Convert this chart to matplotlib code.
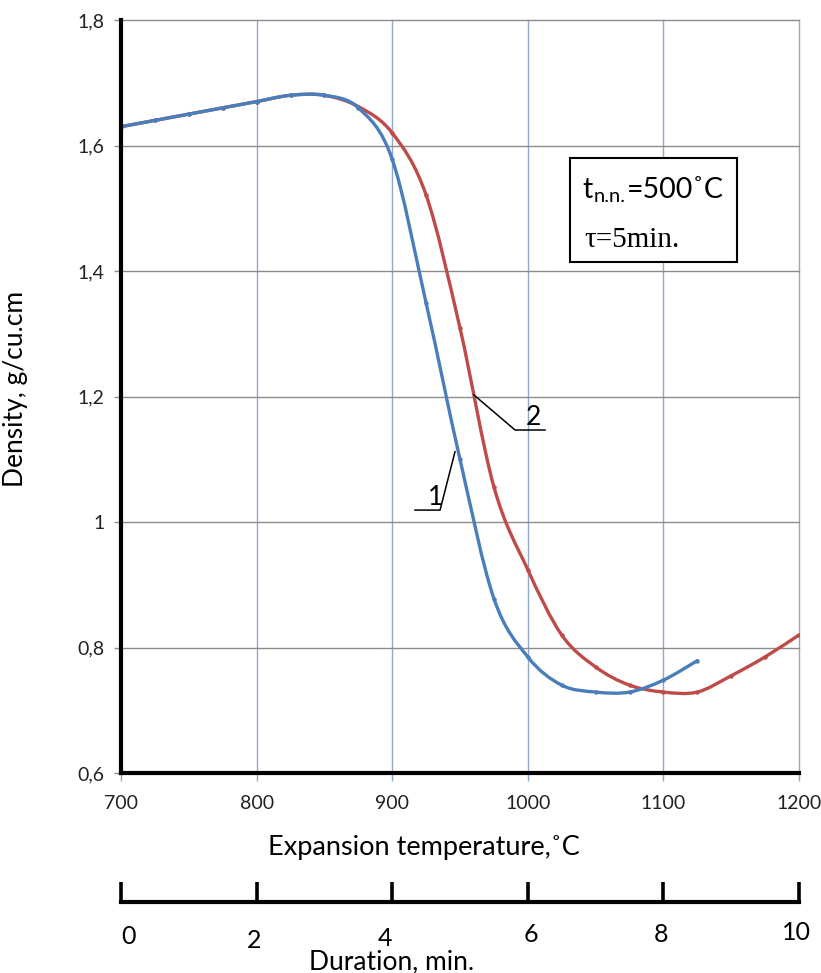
import numpy as np
import matplotlib
matplotlib.use("Agg")
import matplotlib.pyplot as plt
from matplotlib.path import Path
from matplotlib.patches import PathPatch, Rectangle

plt.rcParams["font.family"] = ["Lato", "DejaVu Sans"]

# curve 1 (blue) and curve 2 (red), density vs expansion temperature
temps_1 = [700, 725, 750, 775, 800, 825, 850, 875, 900, 925, 950, 975, 1000,
           1025, 1050, 1075, 1100, 1125]
density_1 = [1.63, 1.64, 1.65, 1.66, 1.67, 1.68, 1.68, 1.66, 1.578, 1.349, 1.10,
             0.878, 0.785, 0.74, 0.729, 0.729, 0.748, 0.779]

temps_2 = [700, 725, 750, 775, 800, 825, 850, 875, 900, 925, 950, 975, 1000,
           1025, 1050, 1075, 1100, 1125, 1150, 1175, 1200]
density_2 = [1.63, 1.64, 1.65, 1.66, 1.67, 1.68, 1.68, 1.662, 1.62, 1.521, 1.309,
             1.056, 0.924, 0.82, 0.769, 0.74, 0.729, 0.729, 0.755, 0.785, 0.82]

x_ticks = [700, 800, 900, 1000, 1100, 1200]
y_ticks = [0.6, 0.8, 1.0, 1.2, 1.4, 1.6, 1.8]
y_tick_labels = ["0,6", "0,8", "1", "1,2", "1,4", "1,6", "1,8"]

duration_ticks = [0, 2, 4, 6, 8, 10]
duration_labels = ["0", "2", "4", "6", "8", "10"]

BLUE = "#4A7EBB"
RED = "#BE4B48"


def smooth_path(xs, ys):
    """Excel-like smoothed line: Catmull-Rom segments as cubic beziers."""
    pts = np.column_stack([xs, ys]).astype(float)
    n = len(pts)
    verts = [pts[0]]
    codes = [Path.MOVETO]
    for i in range(n - 1):
        p0 = pts[i - 1] if i > 0 else pts[i]
        p1 = pts[i]
        p2 = pts[i + 1]
        p3 = pts[i + 2] if i + 2 < n else pts[i + 1]
        verts += [p1 + (p2 - p0) / 6, p2 - (p3 - p1) / 6, p2]
        codes += [Path.CURVE4] * 3
    return Path(verts, codes)


W, H = 821, 973
fig = plt.figure(figsize=(W / 100, H / 100), dpi=100)

ax = fig.add_axes([121 / W, 1 - 773 / H, 678 / W, 753 / H])
ax.set_xlim(700, 1200)
ax.set_ylim(0.6, 1.8)

for xs, ys, c in [(temps_2, density_2, RED), (temps_1, density_1, BLUE)]:
    ax.add_patch(PathPatch(smooth_path(xs, ys), fill=False, edgecolor=c,
                           lw=2.4, capstyle="round", zorder=3))
    ax.plot(xs, ys, linestyle="none", marker="o", ms=2.2, color=c, zorder=3)

ax.set_xticks(x_ticks)
ax.set_yticks(y_ticks)
ax.set_yticklabels(y_tick_labels)
for x in x_ticks:
    ax.axvline(x, color="#8FA8CB", lw=1.0, zorder=1, clip_on=False)
for y in y_ticks:
    ax.axhline(y, color="#8C8C8C", lw=1.0, zorder=1, clip_on=False)

for side in ["top", "right"]:
    ax.spines[side].set_visible(False)
for side in ["left", "bottom"]:
    ax.spines[side].set_linewidth(3)
    ax.spines[side].set_color("black")
    ax.spines[side].set_zorder(4)

ax.tick_params(axis="x", length=6, width=1, color="#8FA8CB", pad=10,
               labelsize=14, labelcolor="#222222")
ax.tick_params(axis="y", length=5, width=1, color="#8C8C8C", pad=7,
               labelsize=14, labelcolor="#222222")

ax.set_xlabel("Expansion temperature,\u02daC", fontsize=19.5)
ax.xaxis.set_label_coords(0.447, -0.083)
ax.set_ylabel("Density, g/cu.cm", fontsize=19)
ax.yaxis.set_label_coords(-0.137, 0.51)

# parameter box
ax.add_patch(Rectangle((0.662, 0.6786), 0.2466, 0.1381, transform=ax.transAxes,
                       fill=True, facecolor="white", edgecolor="black",
                       lw=1.5, zorder=5))
t_txt = ax.text(0.681, 0.774, "t", transform=ax.transAxes, fontsize=20.5,
                va="center", ha="left", zorder=6)
sub_txt = ax.annotate("n.n.", xy=(1, 0), xycoords=t_txt, xytext=(0.8, -1.5),
                      textcoords="offset points", fontsize=14.5, va="bottom",
                      ha="left", zorder=6)
ax.annotate("=500\u02daC", xy=(1, 0), xycoords=sub_txt, xytext=(0.3, 1.5),
            textcoords="offset points", fontsize=20.5, va="bottom", ha="left",
            zorder=6)
ax.text(0.684, 0.708, "\u03c4=5min.", transform=ax.transAxes, fontsize=21,
        family=["Liberation Serif", "DejaVu Serif"], va="center", ha="left",
        zorder=6)

# curve callouts
ax.plot([946.3, 935.3, 916.8], [1.112, 1.019, 1.019], color="black", lw=1.1,
        zorder=4)
ax.text(932, 1.019, "1", fontsize=19, ha="center", va="bottom", zorder=4)
ax.plot([960.3, 990.6, 1012.7], [1.2024, 1.1466, 1.1466], color="black", lw=1.1,
        zorder=4)
ax.text(1004.5, 1.146, "2", fontsize=19, ha="center", va="bottom", zorder=4)

# duration scale
ax2 = fig.add_axes([121 / W, 1 - 902 / H, 678 / W, 20 / H])
ax2.set_xlim(0, 10)
ax2.set_ylim(0, 1)
ax2.patch.set_visible(False)
for side in ["top", "right", "left"]:
    ax2.spines[side].set_visible(False)
ax2.spines["bottom"].set_linewidth(3)
ax2.set_yticks([])
ax2.set_xticks(duration_ticks)
ax2.set_xticklabels([])
ax2.tick_params(axis="x", direction="in", length=14.4, width=2.6)

label_dx = [7, -2, -7, 3, -2, -3]
label_y = [936, 940, 939, 934, 935, 933]
for t, lab, dx, py in zip(duration_ticks, duration_labels, label_dx, label_y):
    px = 121 + t / 10 * 678 + dx
    fig.text(px / W, 1 - py / H, lab, fontsize=18, ha="center", va="center")
fig.text(392 / W, 1 - 962 / H, "Duration, min.", fontsize=19, ha="center",
         va="center")

fig.savefig("out.png", dpi=100)
